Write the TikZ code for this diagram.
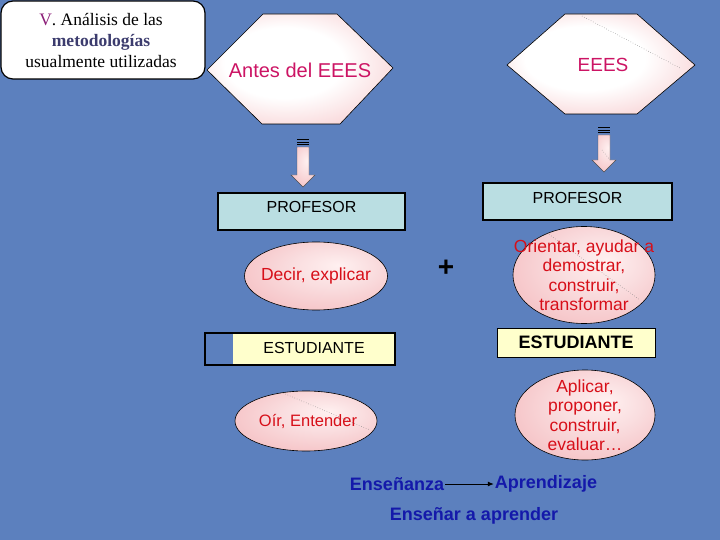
\documentclass[tikz,border=0pt]{standalone}
\usepackage{fontspec}
\setmainfont{Liberation Sans}
\newfontfamily\titlefont{Liberation Serif}
\usetikzlibrary{shapes.geometric}
\usetikzlibrary{arrows.meta}

\definecolor{fondo}{RGB}{92,128,190}
\definecolor{rosa}{RGB}{240,160,165}
\definecolor{rosaclaro}{RGB}{255,240,240}
\definecolor{cian}{RGB}{186,222,226}
\definecolor{crema}{RGB}{255,255,204}
\definecolor{magenta}{RGB}{204,20,100}
\definecolor{rojo}{RGB}{215,15,25}
\definecolor{azul}{RGB}{20,25,170}
\definecolor{tinta}{RGB}{60,60,110}
\definecolor{violeta}{RGB}{140,30,120}

\pgfdeclareradialshading{hexsombra}{\pgfpoint{-6bp}{4bp}}{%
  color(0bp)=(white); color(16bp)=(white); color(40bp)=(rosa!70!white); color(55bp)=(rosa)}
\pgfdeclareradialshading{elisombra}{\pgfpoint{8bp}{8bp}}{%
  color(0bp)=(rosaclaro); color(14bp)=(rosa!35!white); color(45bp)=(rosa!85!white); color(55bp)=(rosa)}

\begin{document}
\begin{tikzpicture}[x=1pt, y=-1pt,
  hexa/.style={draw=black, line width=0.6pt, shading=hexsombra},
  burbuja/.style={ellipse, draw=black, line width=0.6pt, inner sep=0pt, shading=elisombra},
  caja/.style={rectangle, draw=black, line width=2.5pt, inner sep=0pt},
  rotulo/.style={font=\fontsize{16}{19}\selectfont, align=center},
  rojizo/.style={font=\fontsize{17.5}{19.5}\selectfont, align=center, text=rojo},
  pie/.style={font=\fontsize{18}{18}\selectfont\bfseries, text=azul, inner sep=1pt},
  costura/.style={gray, dotted, line width=0.5pt},
  flecha/.style={draw=gray!60!black, line width=0.4pt, shading=elisombra}]

\useasboundingbox (0,0) rectangle (720,540);
\fill[fondo] (0,0) rectangle (720,540);

% titulo
\draw[fill=white, line width=1.2pt, rounded corners=12] (1,1) rectangle (205,79);
\node[font=\titlefont\fontsize{17.5}{21}\selectfont, align=center] (titulo) at (101,41)
  {\textcolor{violeta}{V}. Análisis de las\\
   \textcolor{tinta}{\bfseries metodologías}\\
   usualmente utilizadas};

% hexagonos
\shadedraw[hexa] (207,70) -- (263,14) -- (337,14) -- (393,68) -- (340,124) -- (262,124) -- cycle;
\node[font=\fontsize{20}{20}\selectfont, text=magenta] (antes) at (300,70) {Antes del EEES};
\shadedraw[hexa] (507,65) -- (565,14) -- (637,14) -- (695,65) -- (637,114) -- (565,114) -- cycle;
\draw[costura] (582,16) -- (680,68);
\node[font=\fontsize{19}{19}\selectfont, text=magenta] (eees) at (603,65) {EEES};

% flechas de bloque
\foreach \cx/\ya/\yb/\yc in {303/140/175/187, 604/128/160/172}{
  \shadedraw[flecha] (\cx-6,\ya+7) -- (\cx+6,\ya+7) -- (\cx+6,\yb) -- (\cx+12,\yb)
    -- (\cx,\yc) -- (\cx-12,\yb) -- (\cx-6,\yb) -- cycle;
  \foreach \dy in {0,2.5,5}
    \draw[line width=1pt] (\cx-6,\ya+\dy) -- (\cx+6,\ya+\dy);
}
\draw[costura] (602,150) -- (610,160);

% profesor
\node[caja, fill=cian, minimum width=187, minimum height=37] (profizq) at (311.5,211.5) {};
\node[rotulo] at (311.5,207) {PROFESOR};
\node[caja, fill=cian, minimum width=189, minimum height=37] (profder) at (577.5,201.5) {};
\node[rotulo] at (577.5,198) {PROFESOR};

% acciones del profesor
\node[burbuja, minimum width=143, minimum height=68] (decir) at (316,276) {};
\node[rojizo] at (decir) {Decir, explicar};
\node[font=\fontsize{28}{28}\selectfont\bfseries] (mas) at (446,268) {+};
\node[burbuja, minimum width=142, minimum height=97] (orientar) at (584,275) {};
\draw[costura] (547,233) -- (640,300);
\node[rojizo] at (orientar) {Orientar, ayudar a\\demostrar,\\construir,\\transformar};

% estudiante
\fill[crema] (233,333) rectangle (395,365);
\node[caja, minimum width=190, minimum height=32] (estizq) at (300,349) {};
\node[rotulo] at (314,348) {ESTUDIANTE};
\node[caja, line width=0.8pt, fill=crema, minimum width=158, minimum height=29] (estder) at (576,342.5) {};
\node[font=\fontsize{18}{18}\selectfont\bfseries] at (estder) {ESTUDIANTE};

% acciones del estudiante
\node[burbuja, minimum width=142, minimum height=60] (oir) at (306,421) {};
\draw[costura] (283,393) -- (370,430);
\node[rojizo, font=\fontsize{16.5}{19}\selectfont] at (308,421) {Oír, Entender};
\node[burbuja, minimum width=140, minimum height=90] (aplicar) at (585,415) {};
\node[rojizo] at (aplicar) {Aplicar,\\proponer,\\construir,\\evaluar…};

% pie
\node[pie] (ensenanza) at (397,484) {Enseñanza};
\node[pie] (aprendizaje) at (546,484) {Aprendizaje};
\draw[line width=0.9pt, -{Latex[length=6,width=5]}] (ensenanza) -- (aprendizaje);
\node[pie] (ensenar) at (474,516) {Enseñar a aprender};
\end{tikzpicture}
\end{document}
